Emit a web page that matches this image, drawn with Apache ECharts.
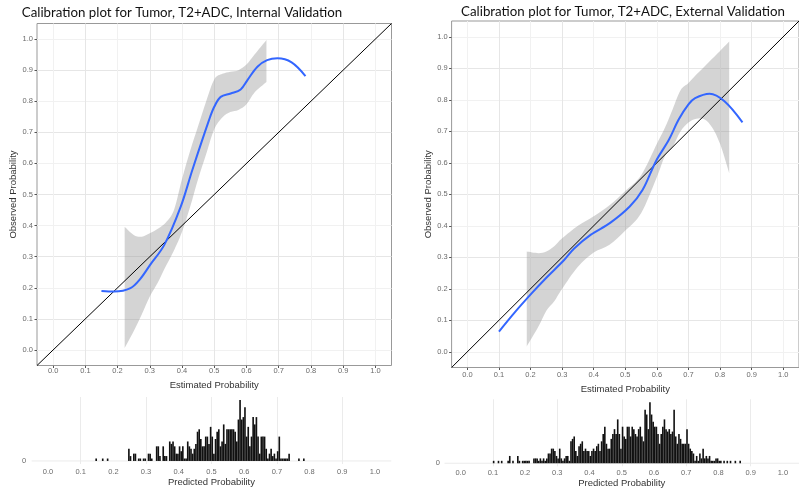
<!DOCTYPE html>
<html><head><meta charset="utf-8">
<script src="https://cdn.jsdelivr.net/npm/echarts@6/dist/echarts.min.js"></script>
<style>html,body{margin:0;padding:0;background:#fff}#c{width:799px;height:491px}</style>
</head><body><div id="c"></div>
<script>
// ---------- data ----------
const titleInternal = 'Calibration plot for Tumor, T2+ADC, Internal Validation';
const titleExternal = 'Calibration plot for Tumor, T2+ADC, External Validation';
const majorTicks = [0, 0.1, 0.2, 0.3, 0.4, 0.5, 0.6, 0.7, 0.8, 0.9, 1.0];
const diagonal = [-0.05, 1.05];

// internal validation: loess calibration curve
const intCurveX = [0.15, 0.19, 0.24, 0.27, 0.3, 0.345, 0.396, 0.432, 0.484, 0.5, 0.52, 0.551, 0.582, 0.603, 0.634, 0.664, 0.696, 0.74, 0.783];
const intCurveY = [0.19, 0.188, 0.199, 0.228, 0.272, 0.338, 0.461, 0.579, 0.74, 0.782, 0.814, 0.825, 0.838, 0.868, 0.911, 0.932, 0.938, 0.925, 0.881];
// internal validation: confidence band
const intBandX  = [0.222, 0.25, 0.275, 0.3, 0.325, 0.35, 0.375, 0.4, 0.425, 0.45, 0.475, 0.5, 0.525, 0.55, 0.575, 0.6, 0.625, 0.662];
const intBandLo = [0.006, 0.06, 0.114, 0.172, 0.217, 0.27, 0.32, 0.38, 0.46, 0.55, 0.63, 0.71, 0.748, 0.765, 0.772, 0.79, 0.828, 0.862];
const intBandHi = [0.396, 0.37, 0.364, 0.375, 0.39, 0.41, 0.45, 0.55, 0.64, 0.72, 0.8, 0.87, 0.888, 0.895, 0.9, 0.918, 0.95, 0.997];

// external validation: loess calibration curve
const extCurveX = [0.1, 0.15, 0.204, 0.25, 0.307, 0.338, 0.39, 0.452, 0.514, 0.555, 0.597, 0.638, 0.669, 0.7, 0.721, 0.767, 0.814, 0.871];
const extCurveY = [0.064, 0.125, 0.186, 0.235, 0.292, 0.328, 0.371, 0.409, 0.461, 0.514, 0.605, 0.673, 0.737, 0.785, 0.805, 0.819, 0.795, 0.728];
// external validation: confidence band
const extBandX  = [0.188, 0.225, 0.25, 0.275, 0.3, 0.35, 0.4, 0.45, 0.5, 0.55, 0.6, 0.625, 0.65, 0.675, 0.7, 0.725, 0.75, 0.775, 0.8, 0.829];
const extBandLo = [0.017, 0.08, 0.13, 0.16, 0.2, 0.27, 0.315, 0.34, 0.385, 0.44, 0.555, 0.62, 0.65, 0.7, 0.728, 0.74, 0.738, 0.712, 0.66, 0.567];
const extBandHi = [0.318, 0.313, 0.318, 0.335, 0.36, 0.4, 0.43, 0.465, 0.51, 0.56, 0.66, 0.71, 0.77, 0.83, 0.853, 0.88, 0.905, 0.93, 0.955, 0.985];

// histograms of predicted probability (bin start, count), bin width 0.005
const histBinWidth = 0.005;
const intHistBins = [0.145,0.165,0.18,0.245,0.25,0.26,0.265,0.275,0.28,0.29,0.295,0.305,0.31,0.315,0.33,0.335,0.34,0.35,0.355,0.36,0.37,0.375,0.38,0.385,0.39,0.395,0.4,0.405,0.41,0.415,0.42,0.425,0.43,0.435,0.44,0.445,0.45,0.455,0.46,0.465,0.47,0.475,0.48,0.485,0.49,0.495,0.5,0.505,0.51,0.515,0.52,0.525,0.53,0.535,0.54,0.545,0.55,0.555,0.56,0.565,0.57,0.575,0.58,0.585,0.59,0.595,0.6,0.605,0.61,0.615,0.62,0.625,0.63,0.635,0.64,0.645,0.65,0.655,0.66,0.665,0.67,0.675,0.68,0.685,0.69,0.695,0.7,0.705,0.71,0.715,0.72,0.725,0.73,0.735,0.765,0.78];
const intHistCounts = [1,1,1,5,2,3,3,1,1,1,1,3,3,1,6,6,2,6,2,2,8,7,8,6,3,3,6,4,6,1,1,8,6,5,3,5,7,12,13,9,6,6,10,10,7,14,10,3,9,12,13,6,8,15,7,13,13,13,13,13,12,8,17,25,17,18,22,10,14,6,10,18,15,18,10,3,10,10,10,5,1,3,5,2,3,1,4,10,1,1,1,1,1,3,1,1];
const extHistBins = [0.1,0.115,0.125,0.145,0.15,0.16,0.175,0.18,0.19,0.195,0.2,0.205,0.21,0.225,0.23,0.235,0.24,0.245,0.25,0.255,0.26,0.265,0.27,0.275,0.28,0.285,0.29,0.295,0.3,0.305,0.31,0.315,0.32,0.325,0.33,0.335,0.34,0.345,0.35,0.355,0.36,0.365,0.37,0.375,0.38,0.385,0.39,0.395,0.4,0.405,0.41,0.415,0.42,0.425,0.43,0.435,0.44,0.445,0.45,0.455,0.46,0.465,0.47,0.475,0.48,0.485,0.49,0.495,0.5,0.505,0.51,0.515,0.52,0.525,0.53,0.535,0.54,0.545,0.55,0.555,0.56,0.565,0.57,0.575,0.58,0.585,0.59,0.595,0.6,0.605,0.61,0.615,0.62,0.625,0.63,0.635,0.64,0.645,0.65,0.655,0.66,0.665,0.67,0.675,0.68,0.685,0.69,0.695,0.7,0.705,0.71,0.715,0.72,0.725,0.73,0.735,0.74,0.745,0.75,0.755,0.76,0.765,0.77,0.775,0.78,0.785,0.79,0.795,0.8,0.805,0.815,0.825,0.835,0.85,0.865];
const extHistCounts = [1,1,1,1,3,1,3,1,1,1,1,1,1,2,2,2,1,2,1,2,1,2,4,4,6,6,5,3,2,6,2,1,2,3,3,1,9,10,11,5,3,7,8,9,5,6,5,5,3,5,6,5,7,8,5,9,12,15,8,6,6,10,12,14,12,18,12,6,15,11,10,15,15,11,15,14,12,11,14,15,11,9,22,20,14,25,20,17,15,15,12,8,12,15,18,14,13,14,12,13,22,11,8,12,10,8,8,8,14,8,6,5,4,1,3,1,4,2,6,2,3,2,3,1,1,1,2,2,1,1,1,1,1,1,1];

// ---------- helpers ----------
const FONT = '"Liberation Sans", Arial, sans-serif';
const isMajor = v => v >= -1e-9 && v <= 1 + 1e-9 && Math.abs(v * 10 - Math.round(v * 10)) < 1e-6;

function probAxis(gi, name, labelMargin, nameGap, splitColors, withTicks) {
  return {
    type: 'value', gridIndex: gi, min: -0.05, max: 1.05, interval: 0.05,
    name: name, nameLocation: 'middle', nameGap: nameGap,
    nameTextStyle: { fontFamily: FONT, fontSize: 9.5, color: '#333' },
    axisLine: { show: false, onZero: false },
    axisTick: { show: withTicks, length: 2.5, lineStyle: { color: '#555' }, customValues: majorTicks },
    axisLabel: { customValues: majorTicks, margin: labelMargin, fontFamily: FONT, fontSize: 7.5, color: '#6b6b6b',
      formatter: v => isMajor(v) ? (Math.round(v * 10) / 10).toFixed(1) : '' },
    splitLine: { show: true, lineStyle: { color: splitColors, width: 1 } }
  };
}
function countAxis(gi, labelMargin) {
  return {
    type: 'value', gridIndex: gi, min: -1.25, max: 26.25,
    axisLine: { show: false, onZero: false }, axisTick: { show: false }, splitLine: { show: false },
    axisLabel: { customValues: [0], margin: labelMargin, fontFamily: FONT, fontSize: 7.5, color: '#6b6b6b',
      formatter: v => Math.abs(v) < 1e-9 ? '0' : '' }
  };
}
// Catmull-Rom segment string through screen points (without the initial move)
function crPath(pts) {
  let d = '';
  for (let i = 0; i < pts.length - 1; i++) {
    const p0 = pts[Math.max(i - 1, 0)], p1 = pts[i], p2 = pts[i + 1], p3 = pts[Math.min(i + 2, pts.length - 1)];
    const c1 = [p1[0] + (p2[0] - p0[0]) / 6, p1[1] + (p2[1] - p0[1]) / 6];
    const c2 = [p2[0] - (p3[0] - p1[0]) / 6, p2[1] - (p3[1] - p1[1]) / 6];
    d += ' C' + c1[0] + ' ' + c1[1] + ' ' + c2[0] + ' ' + c2[1] + ' ' + p2[0] + ' ' + p2[1];
  }
  return d;
}
function bandSeries(idx, xs, lo, hi) {
  return { type: 'custom', xAxisIndex: idx, yAxisIndex: idx, silent: true, z: 2, clip: true,
    data: xs.map((x, i) => [x, lo[i], hi[i]]),
    renderItem: (params, api) => {
      if (params.dataIndex !== 0) return null;
      const up = xs.map((x, i) => api.coord([x, hi[i]]));
      const dn = xs.map((x, i) => api.coord([x, lo[i]])).reverse();
      let d = 'M' + up[0][0] + ' ' + up[0][1] + crPath(up);
      d += ' L' + dn[0][0] + ' ' + dn[0][1] + crPath(dn) + ' Z';
      return { type: 'path', shape: { pathData: d }, style: { fill: 'rgba(153,153,153,0.42)' } };
    } };
}
function diagSeries(idx) {
  return { type: 'line', xAxisIndex: idx, yAxisIndex: idx, silent: true, symbol: 'none',
    lineStyle: { color: '#000', width: 1 }, data: diagonal.map(v => [v, v]), z: 3 };
}
function curveSeries(idx, xs, ys) {
  return { type: 'line', xAxisIndex: idx, yAxisIndex: idx, silent: true, symbol: 'none', smooth: 0.35,
    lineStyle: { color: '#3366FF', width: 2 }, data: xs.map((x, i) => [x, ys[i]]), z: 4 };
}
function histSeries(idx, bins, counts) {
  return { type: 'custom', xAxisIndex: idx, yAxisIndex: idx, silent: true, z: 3,
    data: bins.map((b, i) => [b, counts[i]]),
    renderItem: (params, api) => {
      const x0 = api.value(0), n = api.value(1);
      const p0 = api.coord([x0, 0]);
      const p1 = api.coord([x0 + histBinWidth, n]);
      return { type: 'rect', shape: { x: p0[0], y: p1[1], width: Math.max(p1[0] - p0[0], 0.8), height: p0[1] - p1[1] },
        style: { fill: '#111' } };
    } };
}
function baseSeries(idx) {
  return { type: 'line', xAxisIndex: idx, yAxisIndex: idx, silent: true, symbol: 'none',
    lineStyle: { color: '#ebebeb', width: 1 }, data: diagonal.map(v => [v, 0]), z: 1 };
}

const minorMajor = ['#f1f1f1', '#e6e6e6'];
const majorOnly = ['rgba(0,0,0,0)', '#ebebeb'];

const option = {
  animation: false,
  backgroundColor: '#fff',
  graphic: [
    { type: 'text', x: 182, y: 13, style: { text: titleInternal, font: '13.3px Lato, "Open Sans", sans-serif', fill: '#111', textAlign: 'center', textVerticalAlign: 'middle' } },
    { type: 'text', x: 623, y: 12, style: { text: titleExternal, font: '13.3px Lato, "Open Sans", sans-serif', fill: '#111', textAlign: 'center', textVerticalAlign: 'middle' } }
  ],
  grid: [
    { left: 37, top: 23.5, width: 354.5, height: 342, show: true, borderColor: '#999', borderWidth: 1, backgroundColor: '#fff' },
    { left: 451.6, top: 21, width: 354.5, height: 346.5, show: true, borderColor: '#999', borderWidth: 1, backgroundColor: '#fff' },
    { left: 31.6, top: 397, width: 359.7, height: 67, show: false },
    { left: 444.5, top: 399.3, width: 364.1, height: 67, show: false }
  ],
  xAxis: [
    probAxis(0, 'Estimated Probability', 1.5, 12, minorMajor, true),
    probAxis(1, 'Estimated Probability', 3.5, 12.5, minorMajor, true),
    probAxis(2, 'Predicted Probability', 4, 11.5, majorOnly, false),
    probAxis(3, 'Predicted Probability', 3, 12, majorOnly, false)
  ],
  yAxis: [
    probAxis(0, 'Observed Probability', 4, 17, minorMajor, true),
    probAxis(1, 'Observed Probability', 4, 16.5, minorMajor, true),
    countAxis(2, 5.5),
    countAxis(3, 4.5)
  ],
  series: [
    bandSeries(0, intBandX, intBandLo, intBandHi),
    diagSeries(0),
    curveSeries(0, intCurveX, intCurveY),
    bandSeries(1, extBandX, extBandLo, extBandHi),
    diagSeries(1),
    curveSeries(1, extCurveX, extCurveY),
    baseSeries(2),
    histSeries(2, intHistBins, intHistCounts),
    baseSeries(3),
    histSeries(3, extHistBins, extHistCounts)
  ]
};
const chart = echarts.init(document.getElementById('c'), null, { renderer: 'canvas' });
chart.setOption(option);
</script>
</body></html>
